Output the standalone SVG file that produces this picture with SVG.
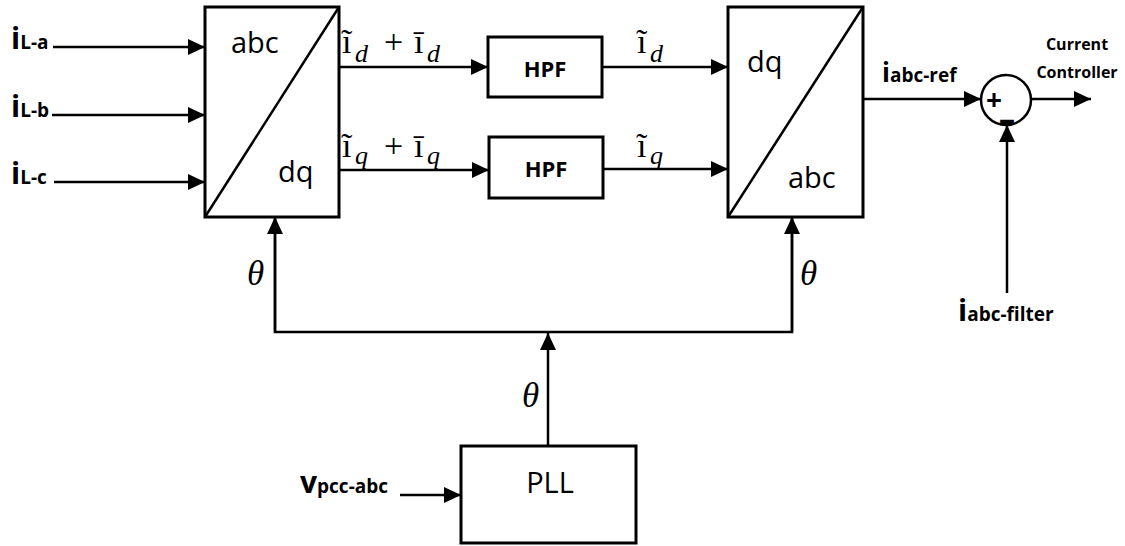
<svg xmlns="http://www.w3.org/2000/svg" width="1125" height="546" viewBox="0 0 1125 546">
<style>
.blk{fill:#fff;stroke:#000;stroke-width:3}
.ln{fill:none;stroke:#000;stroke-width:2.5}
.ar{marker-end:url(#arr)}
.lbl{font-family:"Open Sans","Liberation Sans",sans-serif;fill:#000}
.b{font-weight:bold}
.m{font-family:"Liberation Serif","DejaVu Serif",serif;fill:#000}
.it{font-style:italic}
</style>
<defs>
<marker id="arr" markerUnits="userSpaceOnUse" markerWidth="18" markerHeight="16" refX="17" refY="8" orient="auto">
<path d="M0,0 L17,8 L0,16 z" fill="#000"/>
</marker>
</defs>
<rect width="1125" height="546" fill="#fff"/>

<g id="connectors">
<line class="ln ar" x1="53" y1="47" x2="205" y2="47"/>
<line class="ln ar" x1="52" y1="115" x2="205" y2="115"/>
<line class="ln ar" x1="54" y1="182" x2="205" y2="182"/>
<line class="ln ar" x1="339" y1="67" x2="488" y2="67"/>
<line class="ln ar" x1="339" y1="170" x2="489" y2="170"/>
<line class="ln ar" x1="602" y1="67" x2="728" y2="67"/>
<line class="ln ar" x1="603" y1="169" x2="728" y2="169"/>
<line class="ln ar" x1="863" y1="99" x2="981" y2="99"/>
<line class="ln ar" x1="1031" y1="99" x2="1091" y2="99"/>
<line class="ln ar" x1="1007" y1="293" x2="1007" y2="125"/>
<polyline class="ln" points="275,217 275,332 792,332 792,217"/>
<line class="ln ar" x1="275" y1="332" x2="275" y2="217"/>
<line class="ln ar" x1="792" y1="332" x2="792" y2="217"/>
<line class="ln ar" x1="548" y1="446" x2="548" y2="333"/>
<line class="ln ar" x1="400" y1="495" x2="461" y2="495"/>
</g>

<g id="abc2dq">
<rect class="blk" x="205" y="7" width="134" height="210"/>
<line class="ln" x1="205" y1="217" x2="339" y2="7"/>
<text class="lbl" x="231" y="53" font-size="29">abc</text>
<text class="lbl" x="278" y="182" font-size="29">dq</text>
</g>

<g id="hpf1">
<rect class="blk" x="488" y="37" width="114" height="60"/>
<text class="lbl b" x="545" y="77" font-size="22" text-anchor="middle">HPF</text>
</g>

<g id="hpf2">
<rect class="blk" x="489" y="137" width="114" height="61"/>
<text class="lbl b" x="546" y="177" font-size="22" text-anchor="middle">HPF</text>
</g>

<g id="dq2abc">
<rect class="blk" x="728" y="7" width="135" height="210"/>
<line class="ln" x1="728" y1="217" x2="863" y2="7"/>
<text class="lbl" x="747" y="72" font-size="29">dq</text>
<text class="lbl" x="788" y="188" font-size="29">abc</text>
</g>

<g id="sum">
<circle cx="1006" cy="100" r="25" fill="#fff" stroke="#000" stroke-width="2.5"/>
<text class="lbl b" x="994" y="110" font-size="28" text-anchor="middle">+</text>
<text class="lbl b" x="1007" y="130" font-size="28" text-anchor="middle" stroke="#000" stroke-width="2">–</text>
</g>

<g id="pll">
<rect class="blk" x="461" y="446" width="175" height="97"/>
<text class="lbl" x="550" y="493" font-size="29" text-anchor="middle">PLL</text>
</g>

<g id="labels">
<text class="lbl b" x="11" y="49"><tspan font-size="30">i</tspan><tspan font-size="19">L-a</tspan></text>
<text class="lbl b" x="11" y="117"><tspan font-size="30">i</tspan><tspan font-size="19">L-b</tspan></text>
<text class="lbl b" x="11" y="184"><tspan font-size="30">i</tspan><tspan font-size="19">L-c</tspan></text>

<text class="m" font-size="34"><tspan x="342" y="53">ĩ</tspan><tspan class="it" x="355" y="62" font-size="26">d</tspan><tspan x="384" y="53">+</tspan><tspan x="414" y="53">ī</tspan><tspan class="it" x="427" y="62" font-size="26">d</tspan></text>
<text class="m" font-size="34"><tspan x="342" y="157">ĩ</tspan><tspan class="it" x="355" y="164" font-size="26">q</tspan><tspan x="384" y="157">+</tspan><tspan x="414" y="157">ī</tspan><tspan class="it" x="427" y="164" font-size="26">q</tspan></text>
<text class="m" font-size="34"><tspan x="637" y="53">ĩ</tspan><tspan class="it" x="650" y="62" font-size="26">d</tspan></text>
<text class="m" font-size="34"><tspan x="637" y="157">ĩ</tspan><tspan class="it" x="650" y="164" font-size="26">q</tspan></text>

<text class="lbl b" x="882" y="82"><tspan font-size="26">i</tspan><tspan font-size="19">abc-ref</tspan></text>
<text class="lbl b" x="1077" y="50" font-size="16" text-anchor="middle">Current</text>
<text class="lbl b" x="1077" y="78" font-size="16" text-anchor="middle">Controller</text>
<text class="lbl b" x="958" y="321"><tspan font-size="30">i</tspan><tspan font-size="19">abc-filter</tspan></text>
<text class="lbl b" x="300" y="493"><tspan font-size="30">v</tspan><tspan font-size="19">pcc-abc</tspan></text>

<text class="m it" x="247" y="285" font-size="35">θ</text>
<text class="m it" x="800" y="285" font-size="35">θ</text>
<text class="m it" x="522" y="407" font-size="35">θ</text>
</g>
</svg>
